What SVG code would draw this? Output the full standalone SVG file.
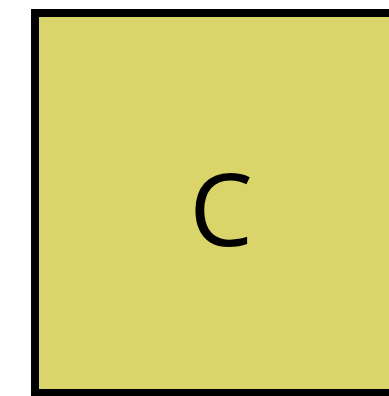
<svg xmlns="http://www.w3.org/2000/svg" width="389" height="396" viewBox="0 0 389 396">
<style>
.node rect{fill:#d9d56a;stroke:#000;stroke-width:8}
.node text{font-family:"Open Sans","Noto Sans",sans-serif;font-size:101px;fill:#000;text-anchor:middle}
</style>
<rect width="389" height="396" fill="#fff"/>
<g id="connectors"></g>
<g id="node-C" class="node">
<rect x="35" y="13" width="380" height="380"/>
<text x="221" y="246">C</text>
</g>
</svg>
